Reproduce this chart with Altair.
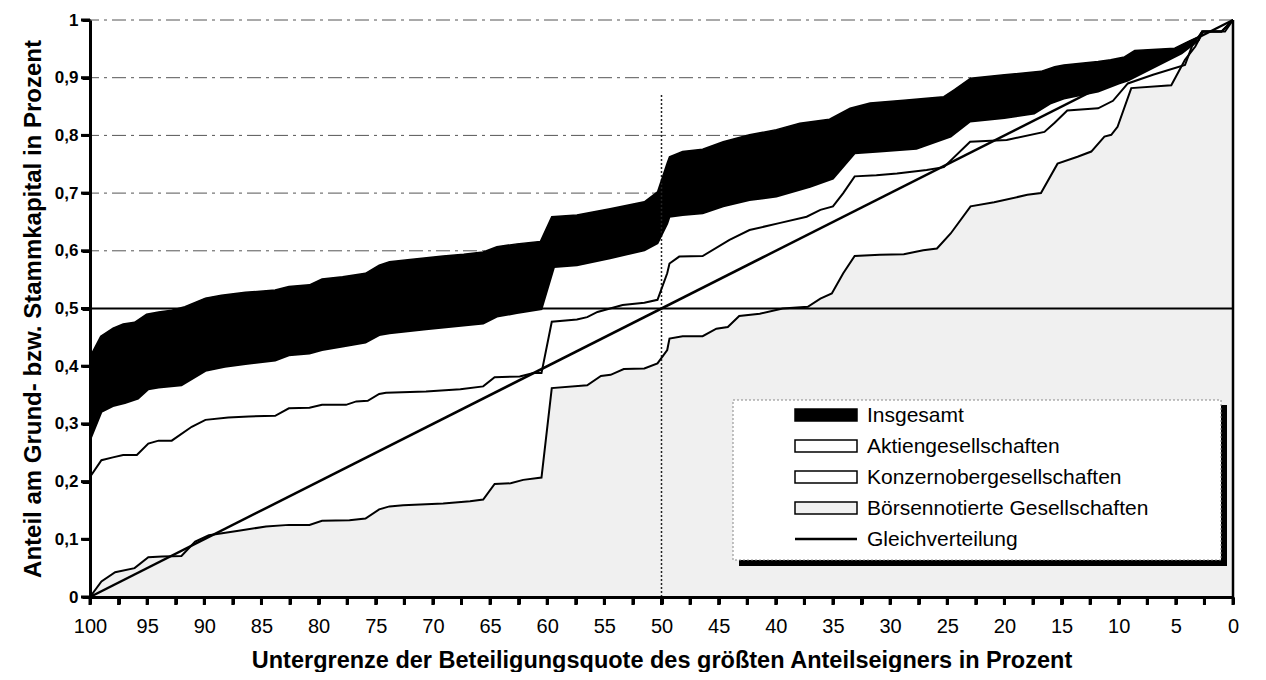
import altair as alt
import pandas as pd

# ---------------- data ----------------
X_TICKS = [i * 2.5 for i in range(41)]
Y_TICKS = [0, 0.1, 0.2, 0.3, 0.4, 0.5, 0.6, 0.7, 0.8, 0.9, 1.0]
GRID_Y = [0.1, 0.2, 0.3, 0.4, 0.6, 0.7, 0.8, 0.9, 1.0]

INS_X = [100, 99.06, 97.98, 97.1, 96.1, 95.05, 94.0, 92.86, 91.7, 89.9, 88.5, 86.4, 83.8, 82.6,
         80.8, 79.7, 77.9, 75.9, 74.7, 73.8, 72.0, 69.1, 67.3, 65.6, 64.4, 62.65, 60.6, 59.6,
         57.4, 54.5, 51.5, 50.35, 49.5, 49.3, 48.15, 46.4, 44.6, 42.3, 39.95, 37.9, 35.3, 33.5,
         31.75, 28.8, 25.3, 24.4, 22.96, 20.0, 16.8, 15.6, 14.8, 11.8, 10.7, 9.5, 8.6, 5.1, 3.9,
         3.0, 2.7, 1.0, 0]
INS_Y = [0.416, 0.452, 0.466, 0.473, 0.476, 0.49, 0.494, 0.497, 0.503, 0.518, 0.523, 0.528, 0.532,
         0.538, 0.541, 0.551, 0.555, 0.561, 0.575, 0.581, 0.585, 0.591, 0.594, 0.598, 0.607, 0.612,
         0.616, 0.659, 0.662, 0.673, 0.685, 0.702, 0.752, 0.763, 0.772, 0.776, 0.789, 0.801, 0.810,
         0.821, 0.828, 0.847, 0.856, 0.861, 0.867, 0.879, 0.899, 0.905, 0.911, 0.919, 0.922, 0.928,
         0.931, 0.936, 0.947, 0.951, 0.963, 0.971, 0.98, 0.98, 1.0]

AG_X = [100, 99.0, 98.0, 96.95, 95.8, 94.9, 94.0, 92.0, 89.9, 88.2, 86.4, 83.8, 82.6, 80.8, 79.7,
        77.9, 75.9, 74.7, 73.8, 70.6, 65.6, 64.4, 62.65, 60.5, 59.4, 57.4, 54.5, 51.5, 50.35, 49.5,
        49.3, 48.15, 46.4, 44.6, 42.3, 39.95, 37.0, 35.0, 33.1, 30.9, 27.7, 24.7, 23.0, 20.0, 17.4,
        16.0, 14.8, 11.8, 10.0, 9.2, 4.5, 3.0, 2.7, 1.0, 0]
AG_Y = [0.272, 0.321, 0.331, 0.336, 0.344, 0.36, 0.363, 0.367, 0.392, 0.399, 0.404, 0.41, 0.419,
        0.422, 0.428, 0.434, 0.441, 0.454, 0.457, 0.464, 0.474, 0.486, 0.492, 0.499, 0.572, 0.575,
        0.587, 0.601, 0.613, 0.647, 0.659, 0.662, 0.665, 0.677, 0.688, 0.694, 0.711, 0.725, 0.769,
        0.772, 0.777, 0.798, 0.824, 0.83, 0.838, 0.855, 0.864, 0.876, 0.89, 0.895, 0.942, 0.965,
        0.98, 0.98, 1.0]

KO_X = [100, 99.0, 98.0, 97.1, 95.9, 94.9, 94.0, 92.85, 91.1, 89.9, 87.9, 86.1, 83.8, 82.6, 80.8,
        79.7, 77.6, 76.7, 75.7, 74.7, 74.1, 70.6, 67.6, 65.6, 64.6, 62.4, 61.2, 60.5, 59.6, 57.4,
        56.5, 55.6, 53.4, 51.5, 50.35, 49.5, 49.3, 48.45, 46.4, 44.05, 42.3, 39.7, 37.3, 36.1, 35.0,
        34.1, 33.1, 31.2, 29.4, 26.8, 25.3, 23.0, 19.8, 16.5, 15.6, 14.5, 11.8, 10.5, 9.2, 7.0,
        4.2, 3.6, 2.7, 1.0, 0]
KO_Y = [0.208, 0.237, 0.242, 0.246, 0.246, 0.266, 0.271, 0.271, 0.295, 0.307, 0.311, 0.313, 0.314,
        0.327, 0.328, 0.333, 0.333, 0.339, 0.34, 0.352, 0.354, 0.356, 0.36, 0.365, 0.381, 0.382,
        0.388, 0.388, 0.477, 0.481, 0.485, 0.494, 0.506, 0.51, 0.515, 0.561, 0.578, 0.59, 0.591,
        0.619, 0.636, 0.648, 0.659, 0.671, 0.677, 0.70, 0.729, 0.731, 0.734, 0.74, 0.745, 0.789,
        0.792, 0.806, 0.822, 0.843, 0.847, 0.86, 0.89, 0.905, 0.922, 0.954, 0.98, 0.98, 1.0]

BN_X = [100, 99.0, 97.8, 96.1, 94.9, 93.7, 92.0, 90.8, 89.6, 87.0, 84.6, 82.6, 80.8, 79.7, 77.3,
        75.9, 74.7, 73.8, 72.6, 69.1, 66.75, 65.6, 64.6, 63.2, 62.1, 60.5, 59.6, 56.5, 55.3, 54.45,
        53.3, 51.5, 50.35, 49.5, 49.3, 48.15, 46.4, 45.2, 44.2, 43.2, 41.4, 39.4, 37.2, 36.1, 35.1,
        34.1, 33.1, 30.9, 28.8, 27.1, 25.9, 24.7, 22.96, 20.9, 17.99, 16.8, 15.35, 13.6, 12.4,
        11.25, 10.65, 10.1, 8.9, 5.4, 4.2, 3.3, 2.6, 0.7, 0]
BN_Y = [0.0, 0.027, 0.043, 0.05, 0.069, 0.07, 0.071, 0.096, 0.107, 0.115, 0.122, 0.125, 0.125,
        0.132, 0.133, 0.136, 0.152, 0.157, 0.159, 0.162, 0.166, 0.169, 0.196, 0.197, 0.203, 0.207,
        0.362, 0.367, 0.383, 0.385, 0.395, 0.396, 0.405, 0.428, 0.448, 0.452, 0.452, 0.465, 0.468,
        0.487, 0.491, 0.5, 0.503, 0.517, 0.526, 0.561, 0.591, 0.593, 0.594, 0.601, 0.604, 0.63,
        0.677, 0.684, 0.697, 0.700, 0.751, 0.763, 0.772, 0.798, 0.801, 0.815, 0.882, 0.887, 0.931,
        0.954, 0.98, 0.98, 1.0]

GV_X = [100, 0]
GV_Y = [0.0, 1.0]

LEGEND_LABELS = ["Insgesamt", "Aktiengesellschaften", "Konzernobergesellschaften",
                 "Börsennotierte Gesellschaften", "Gleichverteilung"]

X_TITLE = "Untergrenze der  Beteiligungsquote des größten Anteilseigners in Prozent"
Y_TITLE = "Anteil am Grund- bzw. Stammkapital in Prozent"

# ---------------- chart ----------------
W, H = 1143, 577
FONT = "Liberation Sans"
DOT_FILL = "#f0f0f0"

xscale = alt.Scale(domain=[0, 100], reverse=True, nice=False, zero=False)
yscale = alt.Scale(domain=[0, 1], nice=False)


def frame(xs, ys):
    return pd.DataFrame({"x": xs, "y": ys})


x_axis = alt.Axis(
    values=X_TICKS, title=X_TITLE, grid=False, zindex=1, ticks=True,
    labelExpr="datum.value % 5 == 0 ? format(datum.value, 'd') : ''",
    labelOverlap=False, labelFlush=False,
    labelFont=FONT, labelFontSize=20, labelColor="#000",
    labelPadding=12, tickSize=7, tickWidth=3, tickColor="#000",
    domainColor="#000", domainWidth=3,
    titleFont=FONT, titleFontSize=23.5, titleFontWeight="bold", titleColor="#000",
    titlePadding=12,
)
y_axis = alt.Axis(
    values=Y_TICKS, title=Y_TITLE, grid=False, zindex=1, ticks=True,
    labelExpr="datum.value == 0 ? '0' : datum.value == 1 ? '1' : replace(format(datum.value, '.1f'), '.', ',')",
    labelFont=FONT, labelFontSize=17, labelFontWeight="bold", labelColor="#000",
    labelPadding=4, tickSize=8, tickWidth=3, tickColor="#000",
    domainColor="#000", domainWidth=3,
    titleFont=FONT, titleFontSize=24, titleFontWeight="bold", titleColor="#000",
    titlePadding=9,
)

X_ENC = dict(scale=xscale, axis=x_axis)
Y_ENC = dict(scale=yscale, axis=y_axis)

grid = alt.Chart(pd.DataFrame({"y": GRID_Y})).mark_rule(
    color="#555", strokeWidth=1, strokeDash=[14, 5, 3, 5]
).encode(y=alt.Y("y:Q", **Y_ENC))


def area(xs, ys, fill):
    return alt.Chart(frame(xs, ys)).mark_area(
        fill=fill, opacity=1, interpolate="linear"
    ).encode(x=alt.X("x:Q", **X_ENC), y=alt.Y("y:Q", **Y_ENC))


def line(xs, ys, width=2.0):
    return alt.Chart(frame(xs, ys)).mark_line(
        color="#000", strokeWidth=width, interpolate="linear"
    ).encode(x=alt.X("x:Q", **X_ENC), y=alt.Y("y:Q", **Y_ENC))


a_ins = area(INS_X, INS_Y, "#000")
a_ag = area(AG_X, AG_Y, "#fff")
a_ko = area(KO_X, KO_Y, "#fff")
a_bn = area(BN_X, BN_Y, DOT_FILL)

l_ins = line(INS_X, INS_Y, 1.5)
l_ag = line(AG_X, AG_Y)
l_ko = line(KO_X, KO_Y)
l_bn = line(BN_X, BN_Y)
l_gv = line(GV_X, GV_Y, 2.5)

one = pd.DataFrame({"v": [0]})

half_rule = alt.Chart(pd.DataFrame({"y": [0.5]})).mark_rule(color="#000", strokeWidth=2).encode(
    y=alt.Y("y:Q", **Y_ENC)
)
vert_rule = alt.Chart(pd.DataFrame({"x": [50], "y": [0.0], "y2": [0.87]})).mark_rule(
    color="#222", strokeWidth=1.5, strokeDash=[2, 2]
).encode(x=alt.X("x:Q", **X_ENC), y=alt.Y("y:Q", **Y_ENC), y2="y2:Q")
right_edge = alt.Chart(pd.DataFrame({"x": [0], "y": [0.0], "y2": [1.0]})).mark_rule(
    color="#000", strokeWidth=2.5
).encode(x=alt.X("x:Q", **X_ENC), y=alt.Y("y:Q", **Y_ENC), y2="y2:Q")

# explicit tick marks (drawn outside the plot area, as in the original)
x_tick_marks = alt.Chart(pd.DataFrame({"x": X_TICKS})).mark_rule(
    color="#000", strokeWidth=3
).encode(x=alt.X("x:Q", **X_ENC), y=alt.value(H), y2=alt.value(H + 8))
y_tick_marks = alt.Chart(pd.DataFrame({"y": Y_TICKS})).mark_rule(
    color="#000", strokeWidth=3
).encode(y=alt.Y("y:Q", **Y_ENC), x=alt.value(-9), x2=alt.value(0))

# ---------------- legend (hand-drawn box, as in the original) ----------------
LX0, LX1, LY0, LY1 = 643, 1131, 380, 540
legend_layers = [
    alt.Chart(one).mark_rect(fill="#000").encode(
        x=alt.value(LX1), x2=alt.value(LX1 + 6), y=alt.value(LY0 + 5), y2=alt.value(LY1 + 6)),
    alt.Chart(one).mark_rect(fill="#000").encode(
        x=alt.value(LX0 + 6), x2=alt.value(LX1 + 6), y=alt.value(LY1), y2=alt.value(LY1 + 6)),
    alt.Chart(one).mark_rect(fill="#fff", stroke="#888", strokeWidth=1, strokeDash=[2, 2]).encode(
        x=alt.value(LX0), x2=alt.value(LX1), y=alt.value(LY0), y2=alt.value(LY1)),
]
SX0, SX1, TX = 705, 767, 777
sym_fill = ["#000", "#fff", "#fff", DOT_FILL]
for i, lab in enumerate(LEGEND_LABELS):
    yc = 395 + i * 31
    if i < 4:
        legend_layers.append(
            alt.Chart(one).mark_rect(fill=sym_fill[i], stroke="#000", strokeWidth=1.5).encode(
                x=alt.value(SX0), x2=alt.value(SX1), y=alt.value(yc - 6), y2=alt.value(yc + 6)))
    else:
        legend_layers.append(
            alt.Chart(one).mark_rule(color="#000", strokeWidth=2.5).encode(
                x=alt.value(SX0), x2=alt.value(SX1), y=alt.value(yc)))
    legend_layers.append(
        alt.Chart(pd.DataFrame({"t": [lab]})).mark_text(
            align="left", baseline="middle", font=FONT, fontSize=21, color="#000"
        ).encode(x=alt.value(TX), y=alt.value(yc + 1), text="t:N"))

chart = alt.layer(
    grid, a_ins, a_ag, a_ko, a_bn, vert_rule, l_ins, l_ag, l_ko, l_bn, l_gv,
    half_rule, right_edge, x_tick_marks, y_tick_marks, *legend_layers
).properties(
    width=W, height=H,
    padding={"left": 82, "top": 12, "right": 25, "bottom": 75},
    autosize=alt.AutoSizeParams(type="none"),
    background="#fff",
).configure_view(stroke=None)

chart.save("out.html", embed_options={"renderer": "svg", "actions": False})
